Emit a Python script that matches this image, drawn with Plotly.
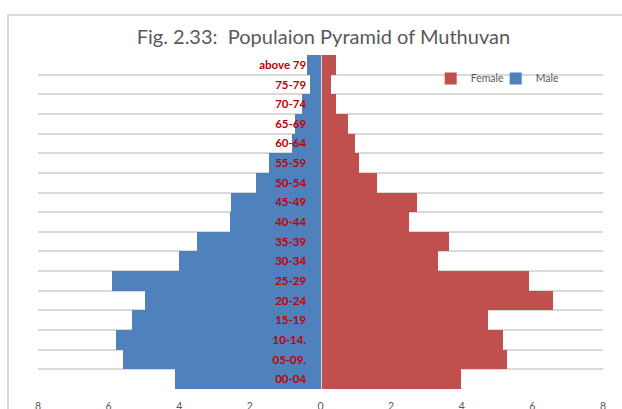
import plotly.graph_objects as go

# Age groups, youngest at the bottom of the pyramid
age_groups = ["00-04", "05-09.", "10-14.", "15-19", "20-24", "25-29", "30-34",
              "35-39", "40-44", "45-49", "50-54", "55-59", "60-64", "65-69",
              "70-74", "75-79", "above 79"]

# Share of population (%) by age group
male = [4.13, 5.58, 5.80, 5.33, 4.97, 5.90, 4.02, 3.51, 2.57, 2.53, 1.84,
        1.47, 0.80, 0.73, 0.51, 0.30, 0.37]
female = [3.98, 5.29, 5.18, 4.75, 6.57, 5.91, 3.33, 3.65, 2.52, 2.73, 1.61,
          1.10, 0.99, 0.78, 0.44, 0.30, 0.44]

x_ticks = [-8, -6, -4, -2, 0, 2, 4, 6, 8]
x_tick_text = [str(abs(v)) for v in x_ticks]

BLUE = "#4F81BD"
RED = "#C0504D"
GRID = "#D9D9D9"
TEXT = "#595959"

fig = go.Figure()
fig.add_trace(go.Bar(y=age_groups, x=female, orientation="h", name="Female",
                     marker=dict(color=RED, line=dict(width=0))))
fig.add_trace(go.Bar(y=age_groups, x=[-v for v in male], orientation="h", name="Male",
                     marker=dict(color=BLUE, line=dict(width=0))))

fig.update_layout(
    width=622, height=409,
    margin=dict(l=38, r=19, t=55, b=20),
    paper_bgcolor="white", plot_bgcolor="white",
    barmode="relative", bargap=0,
    font=dict(family="Lato, Liberation Sans, sans-serif", color=TEXT),
    title=dict(text="Fig. 2.33:  Populaion Pyramid of Muthuvan",
               x=0.52, xanchor="center", y=1 - 37 / 409, yanchor="middle",
               font=dict(size=20, color=TEXT, family="Lato, sans-serif")),
    legend=dict(orientation="h", x=0.695, xanchor="left", y=0.93, yanchor="middle",
                bgcolor="rgba(0,0,0,0)", font=dict(size=10.5, color=TEXT),
                entrywidth=20, entrywidthmode="pixels", traceorder="normal"),
    xaxis=dict(range=[-8, 8], tickvals=x_ticks, ticktext=x_tick_text,
               showgrid=False, zeroline=False, showline=False, automargin=False,
               tickfont=dict(size=10.5, color=TEXT), ticklabelstandoff=9,
               fixedrange=True),
    yaxis=dict(type="category", categoryorder="array", categoryarray=age_groups,
               tickson="boundaries", showgrid=True, gridcolor=GRID, gridwidth=1.5,
               anchor="free", position=0.5, showline=True, linecolor=GRID,
               linewidth=1, ticks="", ticklabelstandoff=12, automargin=False,
               tickfont=dict(size=11.5, color="#C00000",
                             family="Lato, Liberation Sans, sans-serif", weight="bold"),
               zeroline=False, fixedrange=True),
    showlegend=True,
)

# Outer chart frame
fig.add_shape(type="rect", xref="paper", yref="paper",
              x0=-30 / 565, x1=1.2, y0=-0.3, y1=1 + 40 / 334.5,
              line=dict(color=GRID, width=2), fillcolor="rgba(0,0,0,0)", layer="below")

fig.write_html("out.html")
